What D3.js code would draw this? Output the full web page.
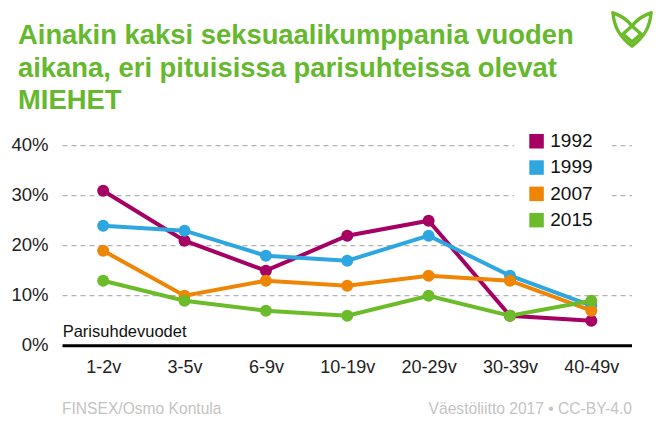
<!DOCTYPE html>
<html>
<head>
<meta charset="utf-8">
<script src="https://cdn.jsdelivr.net/npm/d3@7"></script>
<style>
html, body { margin: 0; padding: 0; background: #fff; }
svg { display: block; }
text { font-family: "Liberation Sans", Arial, sans-serif; }
</style>
</head>
<body>
<svg id="chart" width="662" height="440"></svg>
<script>
// data
var categories = ["1-2v", "3-5v", "6-9v", "10-19v", "20-29v", "30-39v", "40-49v"];
var years = ["1992", "1999", "2007", "2015"];
var colors = ["#a50062", "#2ea7e0", "#ee8505", "#6cbb2a"];
var values1992 = [31, 21, 15, 22, 25, 6, 5];
var values1999 = [24, 23, 18, 17, 22, 14, 8];
var values2007 = [19, 10, 13, 12, 14, 13, 7];
var values2015 = [13, 9, 7, 6, 10, 6, 9];
var yTicks = [0, 10, 20, 30, 40];
var titleLines = ["Ainakin kaksi seksuaalikumppania vuoden", "aikana, eri pituisissa parisuhteissa olevat", "MIEHET"];

var series = [values1992, values1999, values2007, values2015];

var svg = d3.select("#chart");

var x = d3.scalePoint()
	.domain(categories)
	.range([62.5, 632])
	.padding(0.5);

var y = d3.scaleLinear()
	.domain([0, 40])
	.range([345.7, 145.7]);

// title
svg.selectAll(".title")
	.data(titleLines)
	.enter().append("text")
	.attr("class", "title")
	.attr("x", 18)
	.attr("y", function (d, i) { return 44 + i * 32.5; })
	.attr("fill", "#66b82e")
	.attr("font-size", 27.4)
	.attr("font-weight", "bold")
	.text(function (d) { return d; });

// logo
var logo = svg.append("g")
	.attr("fill", "none")
	.attr("stroke", "#6cbb2a")
	.attr("stroke-width", 3.4)
	.attr("stroke-linejoin", "round")
	.attr("stroke-linecap", "round");
logo.append("path")
	.attr("d", "M613 13 C614 28 622 39 632 46 C642 39 650 28 651 13");
logo.append("path")
	.attr("d", "M613 13 C620 15 626 18 632 26 L641 34 L632 42 L623 34 L632 26 C638 18 644 15 651 13");

// gridlines
svg.selectAll(".grid")
	.data(yTicks.slice(1))
	.enter().append("line")
	.attr("class", "grid")
	.attr("x1", 62.5)
	.attr("x2", 632)
	.attr("y1", function (d) { return y(d); })
	.attr("y2", function (d) { return y(d); })
	.attr("stroke", "#b3b3b3")
	.attr("stroke-width", 1.2)
	.attr("stroke-dasharray", "5 4");

// y axis labels
var yAxis = d3.axisLeft(y)
	.tickValues(yTicks)
	.tickSize(0)
	.tickPadding(0)
	.tickFormat(function (d) { return d + "%"; });
var yG = svg.append("g")
	.attr("transform", "translate(48.5,-1)")
	.call(yAxis);
yG.select(".domain").remove();
yG.selectAll("text")
	.attr("font-family", null)
	.attr("font-size", 18.5)
	.attr("fill", "#222");

// x axis
var xAxis = d3.axisBottom(x)
	.tickSize(0)
	.tickPadding(0);
var xG = svg.append("g")
	.attr("transform", "translate(0,345.7)")
	.call(xAxis);
xG.select(".domain").remove();
xG.selectAll("text")
	.attr("font-family", null)
	.attr("font-size", 18)
	.attr("fill", "#222")
	.attr("dy", 0)
	.attr("y", 27);

svg.append("line")
	.attr("x1", 62.5)
	.attr("x2", 632)
	.attr("y1", y(0))
	.attr("y2", y(0))
	.attr("stroke", "#000")
	.attr("stroke-width", 3);

svg.append("text")
	.attr("x", 62.7)
	.attr("y", 336.7)
	.attr("font-size", 16.5)
	.attr("fill", "#111")
	.text("Parisuhdevuodet");

// lines and markers
var line = d3.line()
	.x(function (d, i) { return x(categories[i]); })
	.y(function (d) { return y(d); });

series.forEach(function (s, k) {
	svg.append("path")
		.datum(s)
		.attr("fill", "none")
		.attr("stroke", colors[k])
		.attr("stroke-width", 4)
		.attr("d", line);
	svg.selectAll(".dot" + k)
		.data(s)
		.enter().append("circle")
		.attr("class", "dot" + k)
		.attr("cx", function (d, i) { return x(categories[i]); })
		.attr("cy", function (d) { return y(d); })
		.attr("r", 6)
		.attr("fill", colors[k]);
});

// legend
svg.append("rect")
	.attr("x", 514)
	.attr("y", 128)
	.attr("width", 98)
	.attr("height", 106)
	.attr("fill", "#fff");

var legend = svg.selectAll(".legend")
	.data(years)
	.enter().append("g")
	.attr("class", "legend")
	.attr("transform", function (d, i) { return "translate(529.3," + (134 + i * 26.3) + ")"; });
legend.append("rect")
	.attr("width", 14.5)
	.attr("height", 14.5)
	.attr("fill", function (d, i) { return colors[i]; });
legend.append("text")
	.attr("x", 21)
	.attr("y", 13)
	.attr("font-size", 19)
	.attr("fill", "#111")
	.text(function (d) { return d; });

// footer
svg.append("text")
	.attr("x", 62)
	.attr("y", 414)
	.attr("font-size", 15.6)
	.attr("fill", "#c4c4c4")
	.text("FINSEX/Osmo Kontula");
svg.append("text")
	.attr("x", 632)
	.attr("y", 414)
	.attr("text-anchor", "end")
	.attr("font-size", 15.6)
	.attr("fill", "#c4c4c4")
	.text("Väestöliitto 2017 • CC-BY-4.0");
</script>
</body>
</html>
